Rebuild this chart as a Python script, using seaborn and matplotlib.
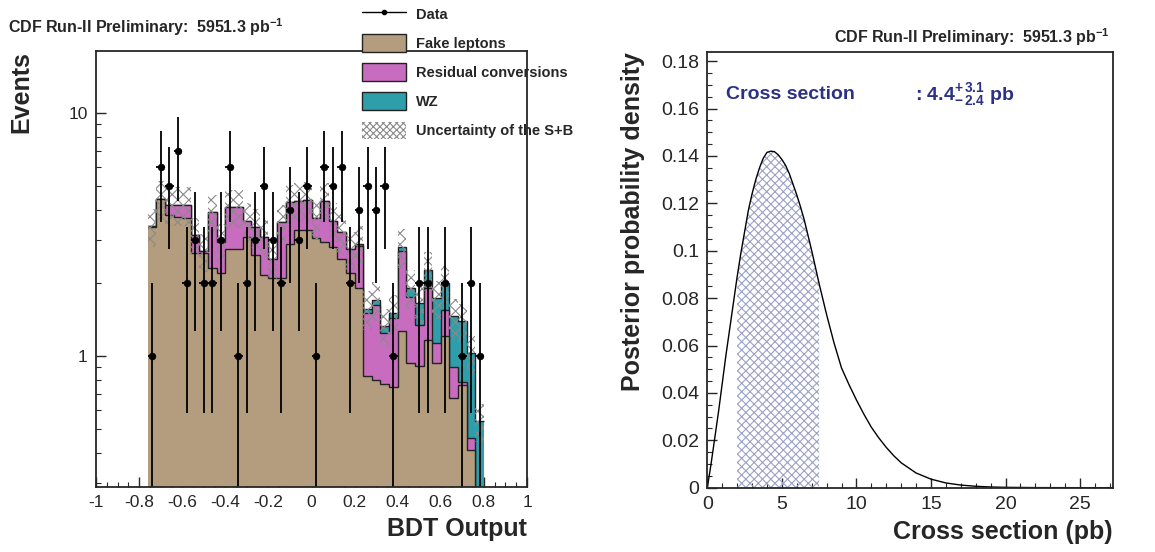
import numpy as np
import matplotlib
matplotlib.use('Agg')
import matplotlib.pyplot as plt
from matplotlib.ticker import MultipleLocator, LogLocator, FuncFormatter, NullFormatter
from matplotlib.lines import Line2D
from matplotlib.patches import Patch
import seaborn as sns

# ---- left panel: BDT output, 39 bins of width 0.04 starting at -0.76 ----
bin_lo = -0.76
bin_width = 0.04
data_counts = [1, 6, 5, 7, 2, 3, 2, 2, 3, 6, 1, 2, 3, 5, 3, 2, 4, 3, 5, 1,
               6, 5, 6, 2, 4, 5, 4, 5, 1, 0, 0, 2, 2, 0, 2, 0, 1, 2, 1]
fake_leptons = [3.40, 4.45, 3.80, 3.75, 3.70, 2.65, 2.65, 2.30, 2.20, 2.75,
                2.75, 3.10, 2.60, 2.15, 2.10, 2.10, 2.90, 3.30, 3.30, 3.05,
                2.95, 2.80, 2.50, 2.20, 1.90, 0.83, 0.80, 0.77, 0.75, 1.27,
                0.94, 0.91, 1.17, 0.94, 1.21, 0.675, 0.765, 0.41, 0.0]
residual_conv = [0.03, 0.00, 0.40, 0.45, 0.50, 0.50, 0.05, 1.60, 0.75, 1.35,
                 1.35, 0.50, 0.80, 0.95, 0.40, 1.45, 1.40, 1.05, 1.10, 0.65,
                 1.40, 0.80, 0.75, 0.55, 0.95, 0.67, 0.83, 0.48, 0.68, 1.43,
                 0.82, 0.44, 0.74, 0.19, 0.34, 0.225, 0.015, 0.05, 0.0]
wz_events = [0.0, 0.0, 0.0, 0.0, 0.0, 0.0, 0.0, 0.0, 0.0, 0.0,
             0.0, 0.0, 0.0, 0.0, 0.0, 0.0, 0.0, 0.0, 0.0, 0.0,
             0.0, 0.0, 0.0, 0.0, 0.05, 0.07, 0.08, 0.08, 0.08, 0.12,
             0.15, 0.30, 0.36, 0.60, 0.45, 0.56, 0.61, 0.57, 0.54]
sb_rel_unc = 0.18

# ---- right panel: posterior probability density ----
xsec = [0, 0.25, 0.5, 0.75, 1.0, 1.25, 1.5, 1.75, 2.0, 2.25, 2.5, 2.75, 3.0,
        3.25, 3.5, 3.75, 4.0, 4.25, 4.5, 4.75, 5.0, 5.25, 5.5, 5.75, 6.0,
        6.25, 6.5, 6.75, 7.0, 7.25, 7.5, 7.75, 8.0, 8.5, 9.0, 9.5, 10, 10.5,
        11, 11.5, 12, 12.5, 13, 14, 15, 16, 17, 18, 19, 20, 22, 25, 27.2]
posterior = [0, 0.010, 0.021, 0.032, 0.044, 0.056, 0.067, 0.078, 0.089,
             0.099, 0.108, 0.117, 0.124, 0.130, 0.135, 0.139, 0.1415, 0.142,
             0.1418, 0.1405, 0.1385, 0.136, 0.1325, 0.128, 0.1235, 0.1185,
             0.113, 0.1065, 0.100, 0.093, 0.086, 0.0795, 0.073, 0.061, 0.0505,
             0.0435, 0.037, 0.031, 0.0255, 0.021, 0.017, 0.0135, 0.0105,
             0.0062, 0.0036, 0.002, 0.0011, 0.0006, 0.0003, 0.00015, 0.00004,
             0, 0]
xsec_central = 4.4
xsec_minus = 2.4
xsec_plus = 3.1

sns.set_style('ticks')
plt.rcParams['font.family'] = ['Liberation Sans', 'DejaVu Sans']
plt.rcParams['axes.unicode_minus'] = False
plt.rcParams['mathtext.fontset'] = 'custom'
plt.rcParams['mathtext.rm'] = 'Liberation Sans'
plt.rcParams['mathtext.bf'] = 'Liberation Sans:bold'
plt.rcParams['mathtext.default'] = 'bf'
plt.rcParams['hatch.linewidth'] = 0.8

c_fake = '#b49c7e'
c_conv = '#c86cbf'
c_wz = '#2e9eab'
c_unc = '#8a8a8a'
c_blue = '#2d3185'

fig = plt.figure(figsize=(11.55, 5.52), dpi=100)
ax1 = fig.add_axes([0.0831, 0.1178, 0.3732, 0.7899])
ax2 = fig.add_axes([0.6124, 0.1165, 0.3512, 0.7899])

# stacked histogram
n = len(data_counts)
edges = bin_lo + bin_width * np.arange(n + 1)
centers = edges[:-1] + bin_width / 2
base = 1e-3
s1 = np.array(fake_leptons)
s2 = s1 + np.array(residual_conv)
s3 = s2 + np.array(wz_events)
for vals, col in [(s3, c_wz), (s2, c_conv), (s1, c_fake)]:
    ax1.stairs(np.maximum(vals, base), edges, baseline=base, fill=True,
               facecolor=col, edgecolor='none')
    ax1.stairs(np.maximum(vals, base), edges, baseline=None,
               color='#222222', linewidth=1.0)

# uncertainty band
ax1.stairs(s3 * (1 + sb_rel_unc), edges, baseline=s3 * (1 - sb_rel_unc),
           fill=True, facecolor='none', edgecolor=c_unc, hatch='xxx',
           linewidth=0)

# data points with sqrt(N) errors
d = np.array(data_counts, dtype=float)
has = d > 0
err = np.sqrt(d[has])
lo = d[has] - np.maximum(d[has] - err, base)
ax1.errorbar(centers[has], d[has], yerr=[lo, err], xerr=bin_width / 2,
             fmt='none', ecolor='black', elinewidth=1.3, capsize=0)
sns.scatterplot(x=centers[has], y=d[has], ax=ax1, color='black', s=24,
                edgecolor='black', zorder=5)

ax1.set_yscale('log')
ax1.set_xlim(-1, 1)
ax1.set_ylim(0.29, 18)
ax1.xaxis.set_major_locator(MultipleLocator(0.2))
ax1.xaxis.set_minor_locator(MultipleLocator(0.05))
ax1.xaxis.set_major_formatter(FuncFormatter(lambda v, p: f'{v:.1f}'.rstrip('0').rstrip('.') if abs(v) > 1e-9 else '0'))
ax1.yaxis.set_major_locator(LogLocator(base=10))
ax1.yaxis.set_minor_locator(LogLocator(base=10, subs=np.arange(2, 10)))
ax1.yaxis.set_major_formatter(FuncFormatter(lambda v, p: f'{v:g}'))
ax1.yaxis.set_minor_formatter(NullFormatter())
ax1.set_xlabel('BDT Output', fontsize=18, fontweight='bold', loc='right')
ax1.set_ylabel('Events', fontsize=18, fontweight='bold', loc='top')
ax1.xaxis.set_label_coords(1.0, -0.068)
ax1.yaxis.set_label_coords(-0.146, 1.0)

# posterior
xs = np.array(xsec)
ys = np.array(posterior)
band = (xs >= xsec_central - xsec_minus - 1e-9) & (xs <= xsec_central + xsec_plus + 1e-9)
ax2.fill_between(xs[band], ys[band], 0, facecolor='none', edgecolor='#9aa2c6',
                 hatch='xxxx', linewidth=0)
sns.lineplot(x=xs, y=ys, ax=ax2, color='black', linewidth=1.0)
ax2.set_xlim(0, 27.2)
ax2.set_ylim(0, 0.184)
ax2.xaxis.set_major_locator(MultipleLocator(5))
ax2.xaxis.set_minor_locator(MultipleLocator(1))
ax2.yaxis.set_major_locator(MultipleLocator(0.02))
ax2.yaxis.set_minor_locator(MultipleLocator(0.005))
ax2.yaxis.set_major_formatter(FuncFormatter(lambda v, p: f'{v:.2f}'.rstrip('0').rstrip('.') if v > 1e-9 else '0'))
ax2.set_xlabel('Cross section (pb)', fontsize=18, fontweight='bold', loc='right')
ax2.set_ylabel('Posterior probability density', fontsize=18, fontweight='bold', loc='top')
ax2.xaxis.set_label_coords(1.0, -0.074)
ax2.yaxis.set_label_coords(-0.154, 1.0)
ax2.text(1.25, 0.166, 'Cross section', color=c_blue, fontsize=14,
         fontweight='bold', va='center')
ax2.text(13.9, 0.166, ': %.1f$^{+\\,%.1f}_{-\\,%.1f}$ pb' % (xsec_central, xsec_plus, xsec_minus),
         color=c_blue, fontsize=14, fontweight='bold', va='center')

for ax, fs in [(ax1, 12.5), (ax2, 14)]:
    for sp in ax.spines.values():
        sp.set_linewidth(1.3)
        sp.set_visible(True)
    ax.tick_params(which='major', direction='in', length=7, width=1.0,
                   labelsize=fs, top=False, right=False, pad=6)
    ax.tick_params(which='minor', direction='in', length=3.5, width=0.8,
                   top=False, right=False)

# titles
fig.text(8 / 1155, 1 - 27 / 552, 'CDF Run-II Preliminary:  5951.3 pb$^{-1}$',
         fontsize=11.5, fontweight='bold', ha='left', va='center')
fig.text(1110 / 1155, 1 - 37 / 552, 'CDF Run-II Preliminary:  5951.3 pb$^{-1}$',
         fontsize=11.5, fontweight='bold', ha='right', va='center')

# legend
handles = [Line2D([], [], color='black', marker='o', markersize=3, linewidth=1.0),
           Patch(facecolor=c_fake, edgecolor='#222222', linewidth=1.0),
           Patch(facecolor=c_conv, edgecolor='#222222', linewidth=1.0),
           Patch(facecolor=c_wz, edgecolor='#222222', linewidth=1.0),
           Patch(facecolor='none', edgecolor=c_unc, hatch='xxxxx', linewidth=0)]
labels = ['Data', 'Fake leptons', 'Residual conversions', 'WZ',
          'Uncertainty of the S+B']
leg = fig.legend(handles, labels, loc='upper left',
                 bbox_to_anchor=(353 / 1155, 1.007), frameon=False,
                 prop={'size': 10.5, 'weight': 'bold'}, handlelength=3.0,
                 handleheight=1.5, labelspacing=0.78, handletextpad=0.7,
                 borderpad=0.1)

fig.savefig('out.png', dpi=100)
